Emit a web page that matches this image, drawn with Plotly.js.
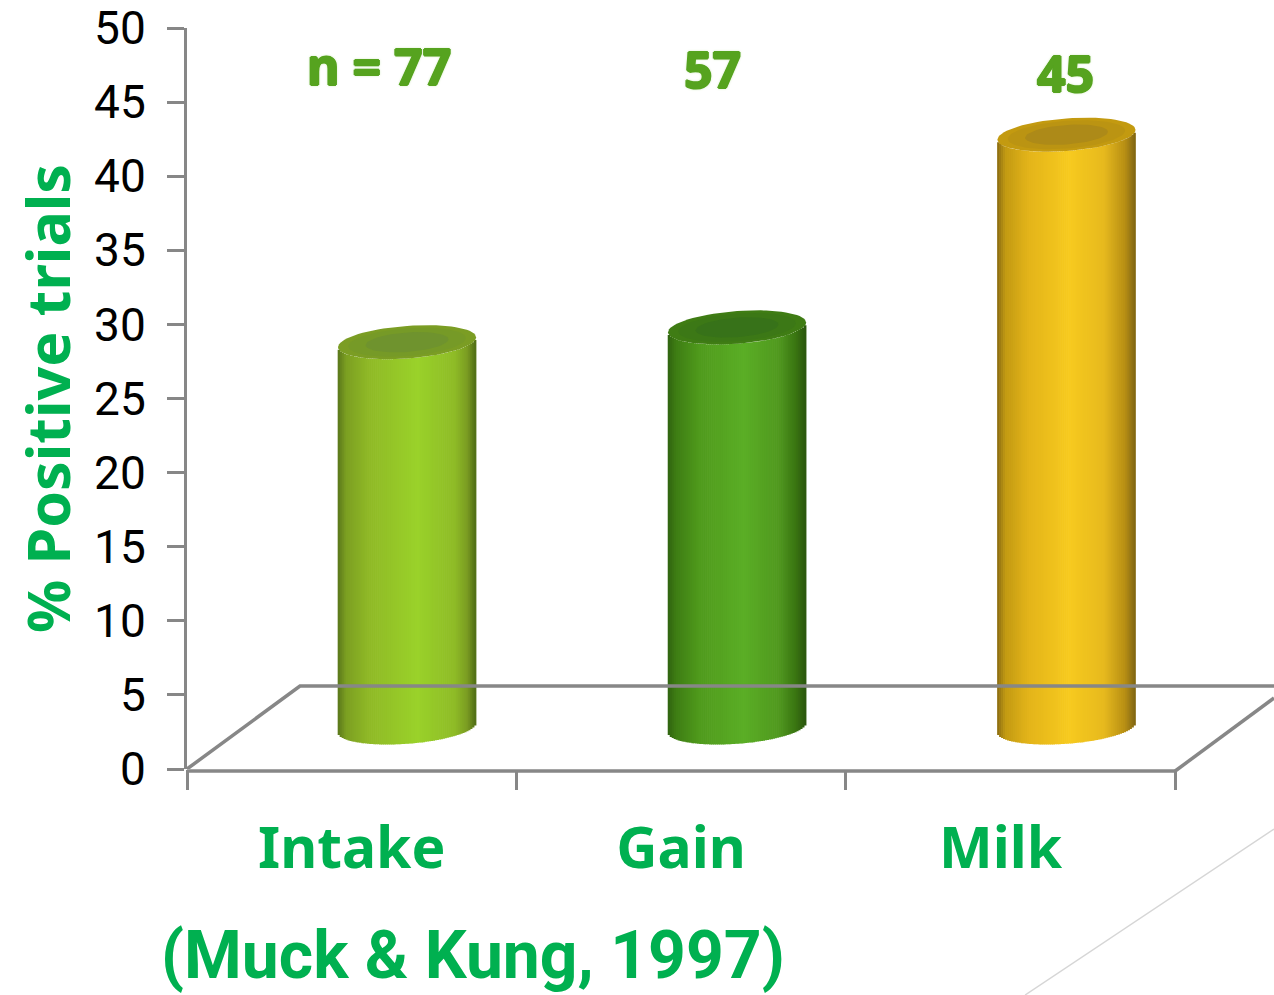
<!DOCTYPE html>
<html><head><meta charset="utf-8">
<script src="https://cdn.plot.ly/plotly-3.0.1.min.js"></script>
<style>html,body{margin:0;padding:0;background:#fff;overflow:hidden}#c{width:1274px;height:995px}</style>
</head><body><div id="c"></div>
<script>
// --- data ---
const categories = ['Intake', 'Gain', 'Milk'];
const percentPositive = [28.8, 29.8, 42.8];   // axis reading at the centre of each cylinder top
const trialCounts = ['n = 77', '57', '45'];
const yTicks = [0, 5, 10, 15, 20, 25, 30, 35, 40, 45, 50];

// --- styles ---
const GREEN = '#00b050', AXIS = '#878787', LABEL = '#56a31f';
const FONT = '"Noto Sans", sans-serif', TIGHT = 'Roboto, sans-serif';
const floorLevel = 2.8, centers = [0.668, 1.67, 2.67], halfW = 0.2095;
const tilt = 0.33, rimB = 1.1, N = 70;
const ramps = [
  [[-1,'#59761a'],[-0.88,'#7c9f22'],[-0.55,'#8fb926'],[0.15,'#9ad22a'],[0.7,'#8ebb26'],[0.88,'#7a9b22'],[1,'#4f6c16']],
  [[-1,'#2f6310'],[-0.88,'#3e7d14'],[-0.55,'#4f9a1c'],[0.1,'#5bae26'],[0.6,'#50991e'],[0.85,'#3a7612'],[1,'#2a560e']],
  [[-1,'#8a6c10'],[-0.88,'#c29a12'],[-0.55,'#e3b41a'],[0.05,'#f7ca1e'],[0.55,'#e6b91e'],[0.85,'#b88f14'],[1,'#7f6410']]
];
const caps = [['#7b9d24','#769a27','#6f932e'],['#3f7c14','#3c7816','#377219'],['#c39a10','#bb9412','#ad8a18']];

function hex(c){return [1,3,5].map(i=>parseInt(c.substr(i,2),16));}
function shade(ramp,u){
  for(let i=1;i<ramp.length;i++){ if(u<=ramp[i][0]){
    const a=ramp[i-1],b=ramp[i],t=(u-a[0])/(b[0]-a[0]),A=hex(a[1]),B=hex(b[1]);
    return 'rgb('+A.map((v,k)=>Math.round(v+(B[k]-v)*t)).join(',')+')';
  }}
  return ramp[ramp.length-1][1];
}

const traces = [];
// back edge of the floor, on the chart's own axes
const line = {color: AXIS, width: 3.5};
traces.push({x:[0,0.343,3.3],y:[0,5.6,5.6],mode:'lines',line,hoverinfo:'skip',showlegend:false});

categories.forEach((name,i)=>{
  const cx=centers[i], top=percentPositive[i];
  const xs=[],bases=[],heights=[],colors=[];
  for(let k=0;k<N;k++){
    const u=-1+(2*k+1)/N, drop=tilt*u-rimB*Math.sqrt(1-u*u);
    xs.push(cx+u*halfW); bases.push(floorLevel+drop); heights.push(top-floorLevel); colors.push(shade(ramps[i],u));
  }
  traces.push({type:'bar',name,x:xs,y:heights,base:bases,width:2*halfW/N*1.35,
    marker:{color:colors,line:{width:0}},hoverinfo:'skip',showlegend:false});
  [[1,caps[i][0]],[0.85,caps[i][1]],[0.6,caps[i][2]]].forEach(([sc,col])=>{
    const ex=[],ey=[];
    for(let d=0;d<=72;d++){
      const t=d*Math.PI/36, c=Math.cos(t), s=Math.sin(t);
      ex.push(cx+sc*halfW*c); ey.push(top+tilt*sc*c+rimB*sc*s);
    }
    traces.push({x:ex,y:ey,mode:'lines',fill:'toself',fillcolor:col,line:{width:0,color:col},hoverinfo:'skip',showlegend:false});
  });
});

const glow = [[1,0],[-1,0],[0,1],[0,-1]].map(d=>d[0]+'px '+d[1]+'px 0 '+LABEL).join(',')+',0 0 3px #9fd07a';
const countFont = {family:FONT,size:50,color:LABEL,weight:700,shadow:glow};
const ann = (x,py,text,font)=>({xref:'x',yref:'paper',x,y:(769-py)/741,text,showarrow:false,xanchor:'center',yanchor:'middle',font});
const annotations = [
  ann(0.582,66,trialCounts[0],countFont),
  ann(1.595,69,trialCounts[1],countFont),
  ann(2.667,73,trialCounts[2],countFont),
  ann(0.868,955,'(Muck &amp; Kung, 1997)',{family:TIGHT,size:66,color:GREEN,weight:700}),
  {xref:'paper',yref:'paper',x:(47-187)/1087,y:(769-399)/741,text:'% Positive trials',textangle:-90,showarrow:false,
   xanchor:'center',yanchor:'middle',font:{family:FONT,size:59,color:GREEN,weight:700}}
];

const layout = {
  width:1274,height:995,margin:{l:187,r:0,t:28,b:226,pad:0},
  paper_bgcolor:'#fff',plot_bgcolor:'#fff',barmode:'overlay',showlegend:false,
  hovermode:false,font:{family:FONT},
  xaxis:{range:[0,3.3],tickmode:'array',tickvals:[0.5,1.5,2.47],ticktext:categories,
    ticks:'',showgrid:false,zeroline:false,showline:false,ticklabelstandoff:41,
    tickfont:{family:FONT,size:57,color:GREEN,weight:700},
    minor:{tick0:0,dtick:1,ticks:'outside',ticklen:20,tickwidth:3,tickcolor:AXIS,showgrid:false}},
  yaxis:{range:[0,50],tickmode:'array',tickvals:yTicks,ticks:'outside',ticklen:17,tickwidth:3,tickcolor:AXIS,
    showgrid:false,zeroline:false,showline:true,linecolor:AXIS,linewidth:3,ticklabelstandoff:12,ticklabeloverflow:'allow',
    tickfont:{family:TIGHT,size:46,color:'#000'}},
  annotations,
  shapes:[
    {type:'line',xref:'x',yref:'paper',x0:0,x1:3,y0:-0.0027,y1:-0.0027,line:{color:AXIS,width:3.5},layer:'below'},
    {type:'line',xref:'x',yref:'paper',x0:3,x1:3.3,y0:-0.0027,y1:(769-698)/741,line:{color:AXIS,width:3.5},layer:'below'},
    {type:'line',xref:'paper',yref:'paper',x0:0.771,y0:-0.305,x1:1,y1:-0.081,line:{color:'#d6d6d6',width:1.5}}
  ]
};
Plotly.newPlot('c',traces,layout,{displayModeBar:false,staticPlot:true});
</script></body></html>
